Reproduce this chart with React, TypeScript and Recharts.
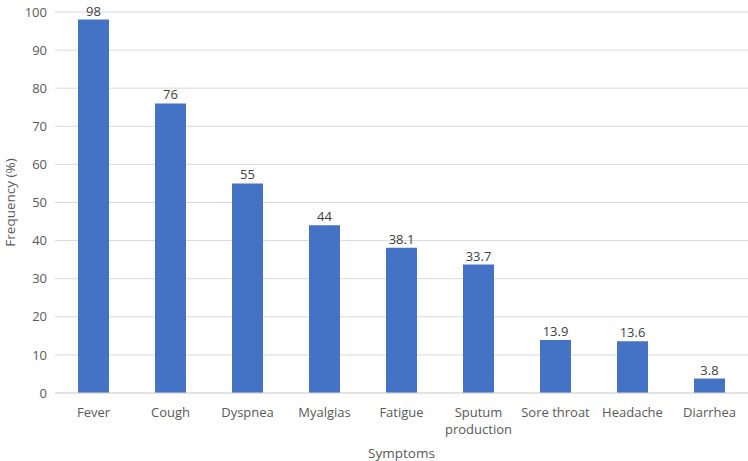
import { BarChart, Bar, XAxis, YAxis, CartesianGrid, LabelList } from 'recharts';

const symptoms = ['Fever', 'Cough', 'Dyspnea', 'Myalgias', 'Fatigue', 'Sputum production', 'Sore throat', 'Headache', 'Diarrhea'];
const frequency = [98, 76, 55, 44, 38.1, 33.7, 13.9, 13.6, 3.8];
const yTicks = [0, 10, 20, 30, 40, 50, 60, 70, 80, 90, 100];

const data = symptoms.map((name, i) => ({ name, value: frequency[i] }));

const FONT = '"Open Sans", "Liberation Sans", sans-serif';
const TEXT = '#595959';

const SymptomTick = (props: any) => {
  const { x, y, payload } = props;
  const name: string = payload.value;
  const lines = name === 'Sputum production' ? name.split(' ') : [name];
  return (
    <text x={x} y={y} textAnchor="middle" fill={TEXT} fontSize={13} fontFamily={FONT}>
      {lines.map((l, i) => (
        <tspan key={i} x={x} dy={i === 0 ? 16 : 17}>{l}</tspan>
      ))}
    </text>
  );
};

const App = () => {
  return (
    <div style={{ position: 'absolute', left: 0, top: 0, width: 748, height: 461, background: '#fff' }}>
      <BarChart width={748} height={461} data={data} margin={{ top: 12, right: 0, left: 0, bottom: 0 }} barSize={31}>
        <CartesianGrid vertical={false} stroke="#d9d9d9" />
        <XAxis
          dataKey="name"
          height={68}
          tickLine={false}
          axisLine={{ stroke: '#d9d9d9' }}
          tick={<SymptomTick />}
          interval={0}
          label={{ value: 'Symptoms', position: 'insideBottom', offset: 3, fill: TEXT, fontSize: 13.5, fontFamily: FONT }}
        />
        <YAxis
          domain={[0, 100]}
          ticks={yTicks}
          width={55}
          tickLine={false}
          axisLine={false}
          tick={{ fill: TEXT, fontSize: 13, fontFamily: FONT }}
          label={{ value: 'Frequency (%)', angle: -90, position: 'insideLeft', offset: 10, fill: TEXT, fontSize: 13.5, fontFamily: FONT, style: { textAnchor: 'middle' } }}
        />
        <Bar dataKey="value" fill="#4472c4" isAnimationActive={false}>
          <LabelList dataKey="value" position="top" offset={4} fill="#404040" fontSize={13} fontFamily={FONT} />
        </Bar>
      </BarChart>
    </div>
  );
};

export default App;
